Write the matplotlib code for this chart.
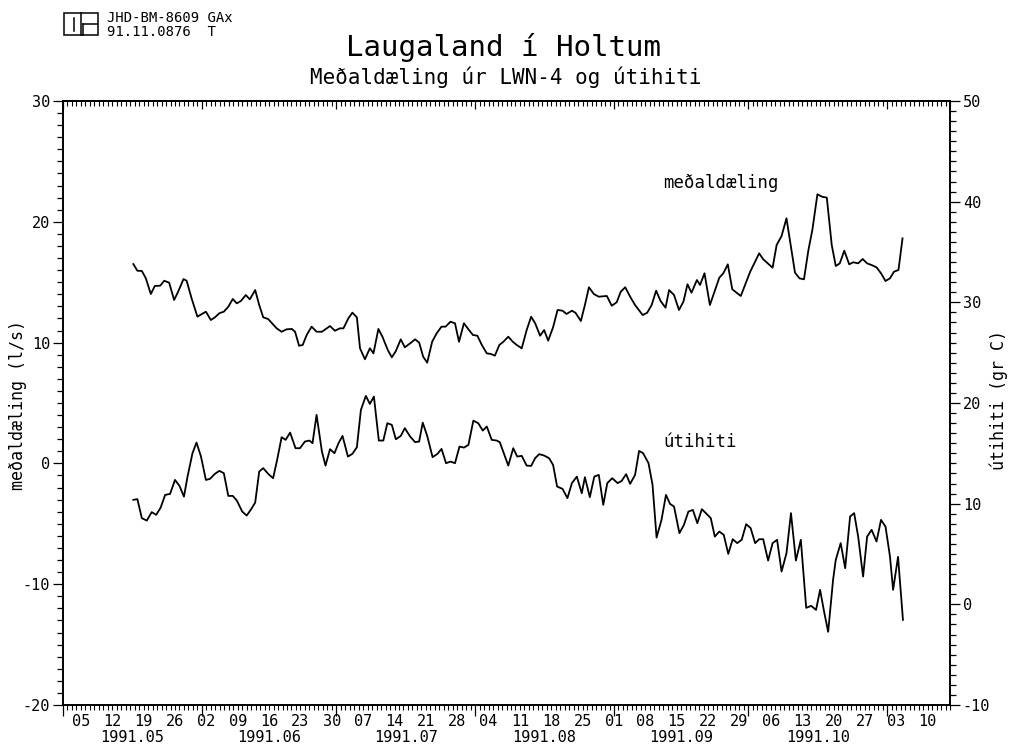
import numpy as np
import pandas as pd
import matplotlib
matplotlib.use('Agg')
import matplotlib.pyplot as plt
import matplotlib.dates as mdates
from matplotlib.ticker import MultipleLocator, NullFormatter
from matplotlib.patches import Rectangle
from matplotlib.lines import Line2D

plt.rcParams['font.family'] = ['DejaVu Sans Mono', 'DejaVu Sans']
plt.rcParams['axes.unicode_minus'] = False

# ---------------- data ----------------
start_date = '1991-05-01'          # day 0 of the day offsets below
x_start, x_end = '1991-05-01', '1991-11-15'

pump_day = [15.7, 16.6, 17.6, 18.5, 19.6, 20.5, 21.7, 22.6, 23.7, 24.8, 25.7, 26.9, 27.6, 28.7,
            30.0, 31.0, 31.9, 33.0, 33.9, 34.9, 35.9, 36.9, 37.9, 38.8, 39.7, 40.8, 41.7, 42.9,
            43.8, 44.7, 45.8, 47.7, 48.8, 49.9, 51.1, 51.8, 52.7, 53.5, 54.4, 55.5, 56.6, 57.8,
            59.6, 60.7, 61.8, 62.6, 63.7, 64.6, 65.6, 66.3, 67.4, 68.5, 69.3, 70.4, 71.3, 72.5,
            73.4, 74.3, 75.4, 76.3, 77.5, 78.6, 79.5, 80.4, 81.3, 82.4, 83.4, 84.5, 85.4, 86.5,
            87.5, 88.4, 89.5, 90.5, 91.5, 92.5, 93.5, 94.6, 95.5, 96.4, 97.4, 98.3, 99.4, 100.4,
            101.3, 102.4, 103.5, 104.5, 105.4, 106.5, 107.4, 108.3, 109.4, 110.4, 111.5, 112.4,
            113.6, 114.4, 115.6, 116.5, 117.4, 118.5, 119.6, 121.4, 122.5, 123.6, 124.5, 125.5,
            126.6, 127.7, 129.4, 130.4, 131.4, 132.4, 133.4, 134.5, 135.3, 136.4, 137.5, 138.5,
            139.4, 140.3, 141.5, 142.2, 143.2, 144.4, 146.5, 147.4, 148.4, 149.4, 151.3, 153.4,
            155.4, 156.3, 158.4, 159.3, 160.4, 161.5, 163.4, 164.4, 165.4, 166.4, 167.3, 168.4,
            169.4, 170.5, 171.6, 172.5, 173.4, 174.4, 175.5, 176.4, 177.5, 178.5, 179.5, 180.5,
            181.6, 182.6, 183.6, 184.6, 185.5, 186.5, 187.4]
pump_val = [16.50, 15.95, 15.93, 15.32, 14.02, 14.69, 14.71, 15.12, 14.96, 13.53, 14.21, 15.26,
            15.12, 13.67, 12.15, 12.37, 12.56, 11.87, 12.09, 12.43, 12.56, 12.97, 13.61, 13.25,
            13.44, 13.94, 13.58, 14.35, 13.11, 12.09, 11.95, 11.18, 10.90, 11.10, 11.13, 10.90,
            9.74, 9.80, 10.63, 11.32, 10.90, 10.90, 11.37, 10.98, 11.18, 11.18, 12.01, 12.48,
            12.09, 9.53, 8.62, 9.53, 9.11, 11.13, 10.49, 9.39, 8.78, 9.30, 10.27, 9.61, 9.94,
            10.27, 10.00, 8.83, 8.34, 10.07, 10.77, 11.32, 11.32, 11.73, 11.60, 10.07, 11.60,
            11.10, 10.63, 10.57, 9.80, 9.11, 9.06, 8.92, 9.80, 10.07, 10.49, 10.07, 9.80, 9.53,
            11.04, 12.14, 11.60, 10.57, 11.04, 10.16, 11.27, 12.70, 12.64, 12.37, 12.64, 12.47,
            11.79, 13.11, 14.58, 14.02, 13.80, 13.86, 13.05, 13.34, 14.21, 14.58, 13.80, 13.11,
            12.28, 12.47, 13.11, 14.30, 13.44, 12.89, 14.35, 13.94, 12.70, 13.39, 14.83, 14.13,
            15.18, 14.77, 15.74, 13.11, 15.37, 15.74, 16.48, 14.41, 13.86, 15.87, 17.39, 16.90,
            16.20, 18.08, 18.82, 20.29, 15.79, 15.32, 15.24, 17.67, 19.38, 22.28, 22.08, 22.00,
            18.08, 16.34, 16.56, 17.61, 16.48, 16.65, 16.56, 16.92, 16.56, 16.42, 16.23, 15.74,
            15.10, 15.32, 15.87, 16.01, 18.63]

temp_day = [15.7, 16.6, 17.6, 18.7, 19.8, 20.8, 21.8, 22.8, 23.9, 25.0, 26.0, 27.0, 27.8, 28.9,
            29.8, 30.8, 31.9, 32.8, 33.9, 34.9, 35.9, 36.9, 37.9, 38.8, 40.0, 41.0, 42.0, 42.9,
            43.8, 44.7, 45.8, 46.9, 47.8, 48.8, 49.7, 50.7, 51.9, 52.9, 54.0, 55.0, 55.7, 56.6,
            57.8, 58.6, 59.6, 60.6, 61.5, 62.4, 63.6, 64.6, 65.6, 66.5, 67.6, 68.5, 69.4, 70.5,
            71.5, 72.4, 73.4, 74.3, 75.4, 76.3, 77.5, 78.6, 79.5, 80.3, 81.3, 82.5, 83.6, 84.5,
            85.5, 86.5, 87.5, 88.5, 89.5, 90.5, 91.6, 92.7, 93.7, 94.6, 95.7, 96.8, 97.5, 98.4,
            99.4, 100.5, 101.4, 102.4, 103.5, 104.5, 105.4, 106.3, 107.4, 108.5, 109.4, 110.3,
            111.5, 112.6, 113.6, 114.7, 115.8, 116.5, 117.6, 118.6, 119.6, 120.6, 121.5, 122.6,
            123.8, 124.7, 125.7, 126.6, 127.7, 128.6, 129.5, 130.7, 131.6, 132.5, 133.6, 134.6,
            135.5, 136.4, 137.6, 138.6, 139.6, 140.6, 141.6, 142.6, 143.5, 144.6, 145.5, 146.5,
            147.5, 148.5, 149.5, 150.5, 151.5, 152.5, 153.5, 154.5, 155.4, 156.3, 157.4, 158.4,
            159.4, 160.4, 161.5, 162.5, 163.6, 164.7, 165.9, 167.0, 168.1, 169.0, 169.9, 170.8,
            171.9, 172.5, 173.6, 174.6, 175.7, 176.6, 177.5, 178.6, 179.5, 180.5, 181.6, 182.6,
            183.6, 184.6, 185.3, 186.4, 187.5]
temp_val = [10.38, 10.45, 8.56, 8.32, 9.16, 8.89, 9.61, 10.87, 10.97, 12.36, 11.77, 10.70, 12.69,
            15.01, 16.07, 14.68, 12.36, 12.46, 12.96, 13.26, 13.03, 10.77, 10.77, 10.31, 9.22,
            8.82, 9.45, 10.11, 13.19, 13.53, 12.96, 12.53, 14.35, 16.60, 16.34, 17.06, 15.51,
            15.51, 16.17, 16.27, 16.01, 18.82, 15.17, 13.78, 15.41, 15.01, 16.01, 16.73, 14.68,
            14.95, 15.61, 19.31, 20.71, 19.91, 20.64, 16.27, 16.27, 17.99, 17.83, 16.40, 16.73,
            17.50, 16.66, 16.11, 16.17, 18.05, 16.73, 14.62, 14.95, 15.44, 14.02, 14.18, 14.02,
            15.67, 15.57, 15.84, 18.25, 17.99, 17.26, 17.66, 16.34, 16.27, 16.11, 15.01, 13.78,
            15.51, 14.68, 14.75, 13.78, 13.75, 14.52, 14.92, 14.78, 14.52, 13.85, 11.70, 11.47,
            10.55, 12.04, 12.69, 11.04, 12.63, 10.65, 12.69, 12.86, 9.88, 12.04, 12.53, 12.04,
            12.26, 12.93, 11.97, 12.86, 15.24, 15.01, 14.02, 11.87, 6.63, 8.39, 10.87, 9.98,
            9.71, 7.07, 7.89, 9.21, 9.38, 8.06, 9.45, 9.06, 8.56, 6.73, 7.23, 6.90, 5.01, 6.47,
            6.08, 6.41, 7.96, 7.57, 6.08, 6.47, 6.47, 4.35, 6.08, 6.41, 3.26, 5.08, 9.06, 4.35,
            6.41, -0.35, -0.15, -0.55, 1.44, -0.74, -2.73, 2.43, 4.42, 6.08, 3.59, 8.72, 9.06,
            6.73, 2.76, 6.73, 7.40, 6.24, 8.39, 7.73, 4.75, 1.44, 4.72, -1.54]

week_start, week_end = '1991-05-05', '1991-11-10'
month_labels = ['1991.05', '1991.06', '1991.07', '1991.08', '1991.09', '1991.10']

title = 'Laugaland í Holtum'
subtitle = 'Meðaldæling úr LWN-4 og útihiti'
ylabel_left = 'meðaldæling (l/s)'
ylabel_right = 'útihiti (gr C)'
header_lines = ['JHD-BM-8609 GAx', '91.11.0876  T']

# ---------------- figure ----------------
W, H = 1009, 749
fig = plt.figure(figsize=(W / 100, H / 100), dpi=100)


def fx(px):
    return px / W


def fy(py):
    return (H - py) / H


ax_l, ax_r, ax_t, ax_b = 63, 950, 101, 705
ax = fig.add_axes([fx(ax_l), fy(ax_b), fx(ax_r - ax_l), (ax_b - ax_t) / H])
ax2 = ax.twinx()

t0 = pd.Timestamp(start_date)
pump_x = (t0 + pd.to_timedelta(np.array(pump_day), unit='D')).to_numpy()
temp_x = (t0 + pd.to_timedelta(np.array(temp_day), unit='D')).to_numpy()

ax.plot(pump_x, pump_val, color='black', lw=1.3)
ax2.plot(temp_x, temp_val, color='black', lw=1.3)

ax.set_xlim(pd.Timestamp(x_start).to_numpy(), pd.Timestamp(x_end).to_numpy())
ax.set_ylim(-20, 30)
ax2.set_ylim(-10, 50)

for a in (ax, ax2):
    for s in a.spines.values():
        s.set_linewidth(1.2)

# y axes
tick_fs = 11
ax.yaxis.set_major_locator(MultipleLocator(10))
ax.yaxis.set_minor_locator(MultipleLocator(1))
ax.tick_params(axis='y', which='major', direction='out', length=7.2, width=0.9,
               labelsize=tick_fs, pad=2)
ax.tick_params(axis='y', which='minor', direction='out', length=4.3, width=0.9)
ax2.yaxis.set_major_locator(MultipleLocator(10))
ax2.yaxis.set_minor_locator(MultipleLocator(1))
ax2.tick_params(axis='y', which='major', direction='out', length=7.2, width=0.9,
                labelsize=tick_fs, pad=2)
ax2.tick_params(axis='y', which='minor', direction='out', length=4.3, width=0.9)

# bottom x axis: daily minor ticks, long ticks at month starts
ax.xaxis.set_major_locator(mdates.MonthLocator())
ax.xaxis.set_minor_locator(mdates.DayLocator())
ax.xaxis.set_major_formatter(NullFormatter())
ax.tick_params(axis='x', which='major', direction='out', length=8, width=0.9)
ax.tick_params(axis='x', which='minor', direction='out', length=3.6, width=0.8)

# top x axis: inward ticks
top = ax.secondary_xaxis('top')
top.xaxis.set_major_locator(mdates.MonthLocator())
top.xaxis.set_minor_locator(mdates.DayLocator())
top.xaxis.set_major_formatter(NullFormatter())
top.tick_params(axis='x', which='major', direction='in', length=6, width=0.9)
top.tick_params(axis='x', which='minor', direction='in', length=3.6, width=0.8)
top.spines['top'].set_linewidth(1.2)

# weekly day labels and month labels
xtr = ax.get_xaxis_transform()
for d in pd.date_range(week_start, week_end, freq='7D'):
    ax.text(d.to_numpy(), -16 / (ax_b - ax_t), d.strftime('%d'), transform=xtr,
            ha='center', va='center', fontsize=tick_fs)
for lab in month_labels:
    m0 = pd.Timestamp(lab.replace('.', '-') + '-01')
    mid = m0 + pd.Timedelta(days=m0.days_in_month / 2)
    ax.text(mid.to_numpy(), -33 / (ax_b - ax_t), lab, transform=xtr,
            ha='center', va='center', fontsize=tick_fs)

# axis labels
fig.text(fx(18), fy(405), ylabel_left, rotation=90, ha='center', va='center', fontsize=12)
fig.text(fx(999), fy(400), ylabel_right, rotation=90, ha='center', va='center', fontsize=12)

# in-plot series labels
ax.text((663 - ax_l) / (ax_r - ax_l), (ax_b - 183) / (ax_b - ax_t), 'meðaldæling',
        transform=ax.transAxes, ha='left', va='center', fontsize=12.5)
ax.text((663 - ax_l) / (ax_r - ax_l), (ax_b - 442) / (ax_b - ax_t), 'útihiti',
        transform=ax.transAxes, ha='left', va='center', fontsize=12.5)

# titles
fig.text(fx(503), fy(47), title, ha='center', va='center', fontsize=21)
fig.text(fx(506), fy(77), subtitle, ha='center', va='center', fontsize=15)

# header block with logo
fig.text(fx(107), fy(18), header_lines[0], ha='left', va='center', fontsize=10)
fig.text(fx(107), fy(32), header_lines[1], ha='left', va='center', fontsize=10)
fig.add_artist(Rectangle((fx(64), fy(35)), fx(98) - fx(64), fy(13) - fy(35),
                         transform=fig.transFigure, fill=False, lw=1.1, ec='black'))
logo_paths = [
    ([81, 81], [13, 35]),
    ([74, 74], [18, 31]),
    ([83, 98], [24, 24]),
    ([83, 83], [24, 35]),
]
for xs, ys in logo_paths:
    fig.add_artist(Line2D([fx(v) for v in xs], [fy(v) for v in ys],
                          transform=fig.transFigure, color='black', lw=1.1))

fig.savefig('out.png', dpi=100, facecolor='white')
